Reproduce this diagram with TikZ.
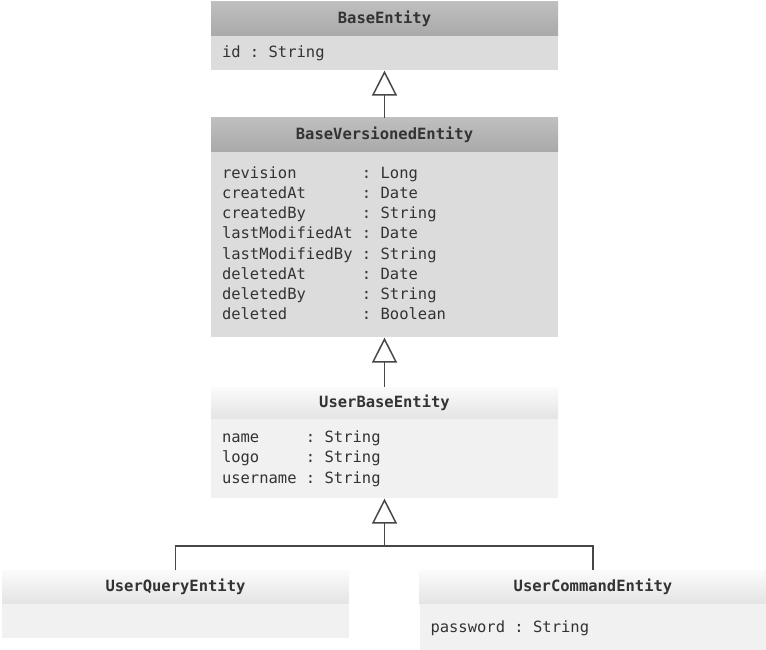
\documentclass[tikz,border=0pt]{standalone}
\usepackage{fontspec}
\setmonofont{DejaVu Sans Mono}
\usetikzlibrary{arrows.meta,positioning}
\definecolor{ink}{HTML}{333333}
\definecolor{lineink}{HTML}{474747}
\definecolor{hdarktop}{HTML}{BFBFBF}
\definecolor{hdarkbot}{HTML}{A9A9A9}
\definecolor{bdark}{HTML}{DCDCDC}
\definecolor{hlighttop}{HTML}{FBFBFB}
\definecolor{hlightbot}{HTML}{E4E4E4}
\definecolor{blight}{HTML}{F1F1F1}
\newcommand\attrs[1]{\begin{tabular}{@{}l@{\phantom{x}:\phantom{x}}l@{}}#1\end{tabular}}
\begin{document}
\begin{tikzpicture}[x=1pt,y=1pt,
  classfont/.style={font=\ttfamily\fontsize{15.5}{20.2}\selectfont, text=ink},
  head/.style={classfont, font=\ttfamily\bfseries\fontsize{15.5}{20.2}\selectfont,
    minimum width=347pt, inner sep=0pt},
  darkhead/.style={head, top color=hdarktop, bottom color=hdarkbot},
  lighthead/.style={head, top color=hlighttop, bottom color=hlightbot},
  body/.style={classfont, minimum width=347pt, text width=325pt, inner xsep=11pt,
    inner ysep=0pt, align=left, below=0pt of #1},
  gen/.style={draw=lineink, line width=1.5pt,
    -{Triangle[open, length=25pt, width=25pt]}},
  link/.style={draw=lineink, line width=1.5pt}]
  \useasboundingbox (0,0) rectangle (766,-650);
  % root class
  \node[darkhead, minimum height=34pt] (beHead) at (384.5,-19) {BaseEntity};
  \node[body=beHead, fill=bdark, minimum height=34pt] (beBody)
    {\attrs{id & String}};
  % versioned class
  \node[darkhead, minimum height=34pt] (bvHead) at (384.5,-135) {BaseVersionedEntity};
  \node[body=bvHead, fill=bdark, minimum height=185pt] (bvBody)
    {\attrs{revision & Long\\ createdAt & Date\\ createdBy & String\\
      lastModifiedAt & Date\\ lastModifiedBy & String\\ deletedAt & Date\\
      deletedBy & String\\ deleted & Boolean}};
  % user base class
  \node[lighthead, minimum height=32pt] (ubHead) at (384.5,-403) {UserBaseEntity};
  \node[body=ubHead, fill=blight, minimum height=79pt] (ubBody)
    {\attrs{name & String\\ logo & String\\ username & String}};
  % the two leaves
  \node[lighthead, minimum height=34pt] (uqHead) at (175.5,-587) {UserQueryEntity};
  \node[body=uqHead, fill=blight, minimum height=34pt] (uqBody) {};
  \node[lighthead, minimum height=34pt] (ucHead) at (593,-587) {UserCommandEntity};
  \node[body=ucHead, fill=blight, minimum height=48pt] (ucBody)
    {\attrs{password & String}};
  % generalisation arrows
  \draw[gen] (bvHead.north) -- (beBody.south);
  \draw[gen] (ubHead.north) -- (bvBody.south);
  \coordinate (fork) at (384.5,-546);
  \draw[gen] (fork) -- (ubBody.south);
  \draw[link] (uqHead.north) |- (fork) -| (ucHead.north);
\end{tikzpicture}
\end{document}
